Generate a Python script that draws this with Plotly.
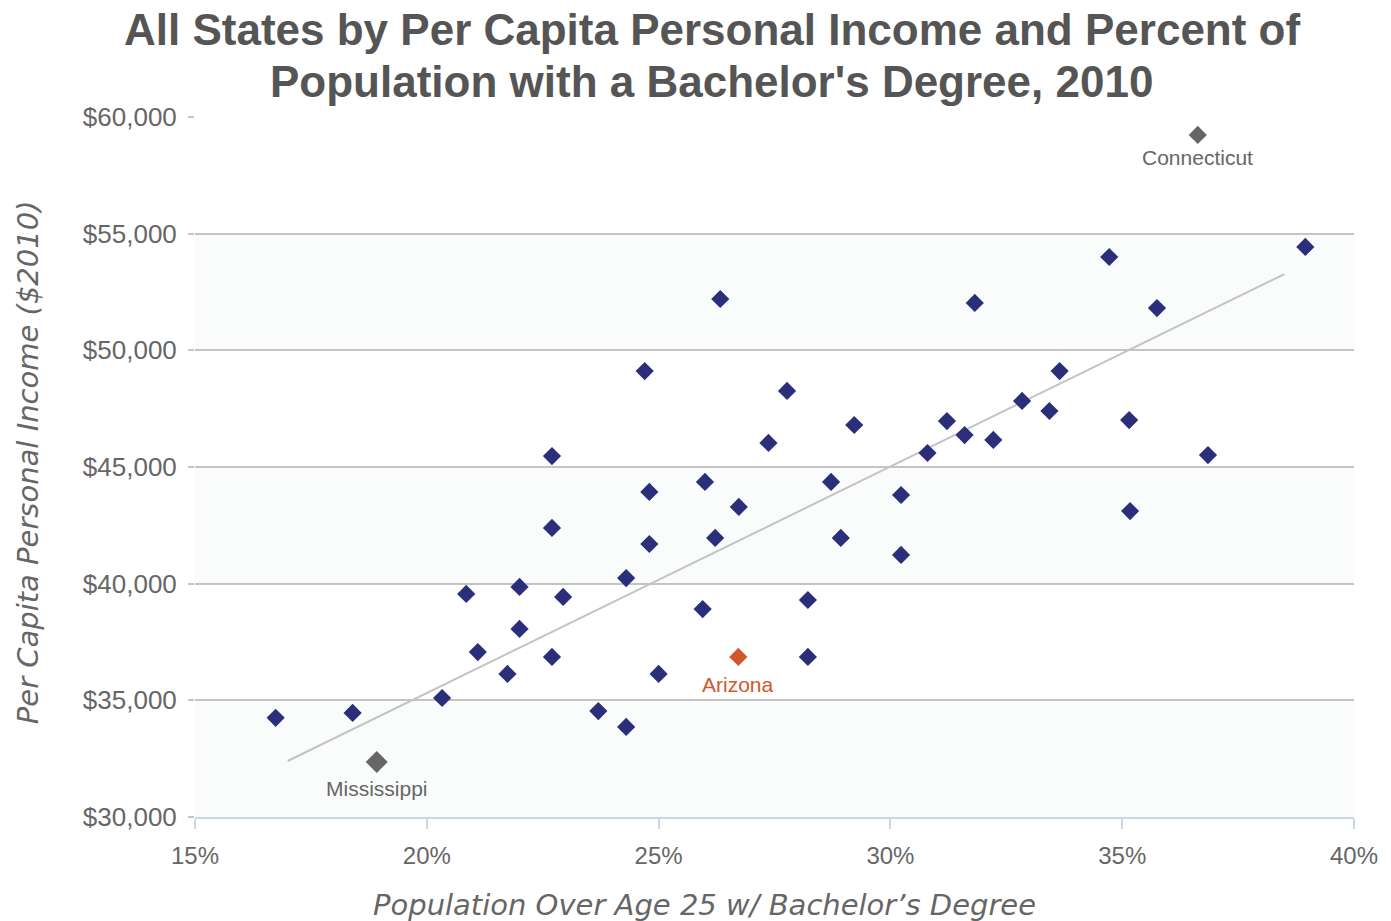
import plotly.graph_objects as go

# Bachelor's degree share (%) and per capita personal income ($2010), other states
edu_pct = [16.74, 18.4, 20.33, 20.85, 21.1, 21.74, 22.0, 22.0, 22.7, 22.7, 22.7, 22.94,
           23.7, 24.3, 24.3, 24.7, 24.8, 24.8, 25.0, 25.95, 26.0, 26.22, 26.33, 26.73,
           27.37, 27.77, 28.22, 28.22, 28.72, 28.93, 29.22, 30.23, 30.23, 30.8, 31.22, 31.6,
           31.82, 32.22, 32.84, 33.43, 33.65, 34.72, 35.15, 35.17, 35.75, 36.85, 38.95]
income = [34250, 34460, 35100, 39560, 37070, 36130, 39860, 38060, 45470, 42390, 36860, 39430,
          34540, 40240, 33860, 49110, 43930, 41700, 36130, 38910, 44360, 41960, 52200, 43290,
          46030, 48260, 39300, 36860, 44360, 41960, 46800, 43800, 41230, 45600, 46970, 46370,
          52030, 46160, 47830, 47400, 49110, 54000, 47010, 43110, 51810, 45510, 54430]

# Highlighted states
hl_names = ["Connecticut", "Mississippi", "Arizona"]
hl_edu = [36.63, 18.92, 26.72]
hl_income = [59230, 32360, 36860]
hl_colors = ["#666666", "#666666", "#d0582a"]
hl_sizes = [14, 17, 14]
hl_label_drop = [23, 27, 28]

# Trend line end points
trend_x = [17.0, 38.5]
trend_y = [32400, 53270]

x_ticks = [15, 20, 25, 30, 35, 40]
x_tick_text = ["15%", "20%", "25%", "30%", "35%", "40%"]
y_ticks = [30000, 35000, 40000, 45000, 50000, 55000, 60000]
y_tick_text = ["$30,000", "$35,000", "$40,000", "$45,000", "$50,000", "$55,000", "$60,000"]
bands = [(50000, 55000), (40000, 45000), (30000, 35000)]

title_lines = ["All States by Per Capita Personal Income and Percent of",
               "Population with a Bachelor's Degree, 2010"]
x_title = "Population Over Age 25 w/ Bachelor’s Degree"
y_title = "Per Capita Personal Income ($2010)"

fig = go.Figure()

fig.add_trace(go.Scatter(x=trend_x, y=trend_y, mode="lines",
                         line=dict(color="#c4c4c4", width=2), hoverinfo="skip",
                         showlegend=False))

fig.add_trace(go.Scatter(x=edu_pct, y=income, mode="markers",
                         marker=dict(symbol="diamond", size=14, color="#2b2f7b",
                                     line=dict(width=0)),
                         showlegend=False))

for name, xv, yv, col, sz, drop in zip(hl_names, hl_edu, hl_income, hl_colors, hl_sizes, hl_label_drop):
    fig.add_trace(go.Scatter(x=[xv], y=[yv], mode="markers",
                             marker=dict(symbol="diamond", size=sz, color=col,
                                         line=dict(width=0)),
                             showlegend=False))
    fig.add_annotation(x=xv, y=yv, text=name, showarrow=False, yshift=-drop,
                       xanchor="center", yanchor="middle",
                       font=dict(family="Liberation Sans, Arial", size=21, color=col))

for lo, hi in bands:
    fig.add_shape(type="rect", xref="paper", yref="y", x0=0, x1=1, y0=lo, y1=hi,
                  fillcolor="#fafcfc", line=dict(width=0), layer="below")

# Title lines
for line, ypos in zip(title_lines, [1.1243, 1.0514]):
    fig.add_annotation(xref="paper", yref="paper", x=0.446, y=ypos, text="<b>" + line + "</b>",
                       showarrow=False, xanchor="center", yanchor="middle",
                       font=dict(family="Liberation Sans, Arial", size=44, color="#555555"))

# Axis titles
fig.add_annotation(xref="paper", yref="paper", x=0.44, y=-0.1257, text="<i>" + x_title + "</i>",
                   showarrow=False, xanchor="center", yanchor="middle",
                   font=dict(family="DejaVu Sans", size=29, color="#666666"))
fig.add_annotation(xref="paper", yref="paper", x=-0.144, y=0.507, text="<i>" + y_title + "</i>",
                   showarrow=False, xanchor="center", yanchor="middle", textangle=-90,
                   font=dict(family="DejaVu Sans", size=29, color="#666666"))

fig.update_layout(
    width=1391, height=921,
    margin=dict(l=195, r=37, t=117, b=104),
    paper_bgcolor="white", plot_bgcolor="white",
    font=dict(family="Liberation Sans, Arial", color="#666666"),
    xaxis=dict(range=[15, 40], tickvals=x_ticks, ticktext=x_tick_text,
               showgrid=False, zeroline=False,
               showline=True, linecolor="#c9d7e6", linewidth=2,
               ticks="outside", ticklen=10, tickwidth=2, tickcolor="#c9d7e6",
               ticklabelstandoff=6,
               tickfont=dict(size=24, color="#666666")),
    yaxis=dict(range=[30000, 60000], tickvals=y_ticks, ticktext=y_tick_text,
               showgrid=True, gridcolor="#c4c4c4", gridwidth=2, zeroline=False,
               showline=False, ticks="outside", ticklen=6, tickwidth=2, tickcolor="#c4c4c4",
               ticklabelstandoff=6,
               tickfont=dict(size=26, color="#666666")),
)

fig.write_html("out.html", config={"displayModeBar": False},
               post_script="document.body.style.margin='0';")
